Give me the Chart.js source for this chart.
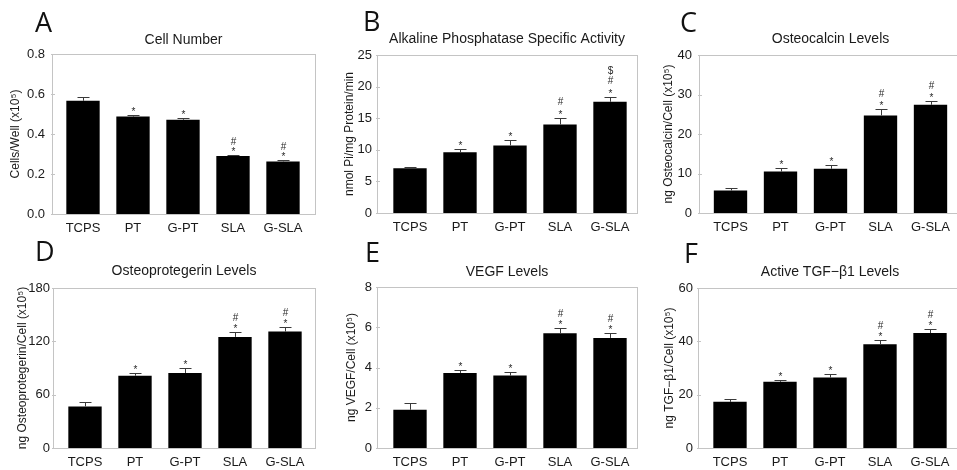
<!DOCTYPE html>
<html><head><meta charset="utf-8">
<script src="https://cdn.jsdelivr.net/npm/chart.js@4.4.1/dist/chart.umd.min.js"></script>
<style>
html,body{margin:0;padding:0;background:#fff;overflow:hidden;width:957px;height:470px;position:relative}
canvas{position:absolute}
</style></head><body>
<script>
// ---------- data ----------
const categories = ['TCPS', 'PT', 'G-PT', 'SLA', 'G-SLA'];

const cellNumber      = [0.566, 0.487, 0.471, 0.290, 0.263];
const cellNumberErr   = [0.017, 0.008, 0.008, 0.006, 0.007];
const cellNumberSig   = ['', '*', '*', '#*', '#*'];

const alkPhos         = [7.1, 9.6, 10.7, 14.0, 17.6];
const alkPhosErr      = [0.25, 0.5, 0.9, 1.0, 0.8];
const alkPhosSig      = ['', '*', '*', '#*', '$#*'];

const osteocalcin     = [5.7, 10.5, 11.2, 24.7, 27.4];
const osteocalcinErr  = [0.6, 0.9, 1.0, 1.6, 1.0];
const osteocalcinSig  = ['', '*', '*', '#*', '#*'];

const opg             = [46.8, 81.3, 84.4, 125.0, 131.0];
const opgErr          = [4.5, 3.0, 6.0, 6.0, 5.6];
const opgSig          = ['', '*', '*', '#*', '#*'];

const vegf            = [1.9, 3.73, 3.6, 5.7, 5.47];
const vegfErr         = [0.33, 0.13, 0.18, 0.25, 0.22];
const vegfSig         = ['', '*', '*', '#*', '#*'];

const tgf             = [17.3, 24.8, 26.4, 38.9, 43.1];
const tgfErr          = [0.9, 0.6, 1.5, 1.7, 1.7];
const tgfSig          = ['', '*', '*', '#*', '#*'];

const panelLetters = ['A', 'B', 'C', 'D', 'E', 'F'];
const panelTitles = ['Cell Number', 'Alkaline Phosphatase Specific Activity', 'Osteocalcin Levels',
                     'Osteoprotegerin Levels', 'VEGF Levels', 'Active TGF\u2212\u03b21 Levels'];
const yTitles = ['Cells/Well (x10\u2075)', 'nmol Pi/mg Protein/min', 'ng Osteocalcin/Cell (x10\u2075)',
                 'ng Osteoprotegerin/Cell (x10\u2075)', 'ng VEGF/Cell (x10\u2075)', 'ng TGF\u2212\u03b21/Cell (x10\u2075)'];
const yMax  = [0.8, 25, 40, 180, 8, 60];
const yStep = [0.2, 5, 10, 60, 2, 20];
const yDecimals = [1, 0, 0, 0, 0, 0];

const values = [cellNumber, alkPhos, osteocalcin, opg, vegf, tgf];
const errors = [cellNumberErr, alkPhosErr, osteocalcinErr, opgErr, vegfErr, tgfErr];
const sigs   = [cellNumberSig, alkPhosSig, osteocalcinSig, opgSig, vegfSig, tgfSig];

// ---------- layout (page coordinates) ----------
const layoutCfg = [
  {cv:[0,0,320,235],    fr:{l:52,r:315,t:54,b:214},  xr:[-0.62,4.64], titleY:40,  yTitleX:16,  tickPad:7, markGap:7,  letter:[35,32]},
  {cv:[320,0,320,235],  fr:{l:377,r:637,t:55,b:213}, xr:[-0.66,4.54], titleY:39,  yTitleX:350, tickPad:5, markGap:10, letter:[363,31]},
  {cv:[640,0,330,235],  fr:{l:699,r:962,t:55,b:213}, xr:[-0.63,4.63], titleY:39,  yTitleX:669, tickPad:7, markGap:9,  letter:[680,32]},
  {cv:[0,235,320,235],  fr:{l:53,r:315,t:288,b:448}, xr:[-0.64,4.60], titleY:271, yTitleX:23,  tickPad:3, markGap:8,  letter:[35,261]},
  {cv:[320,235,320,235],fr:{l:377,r:637,t:287,b:448},xr:[-0.66,4.54], titleY:272, yTitleX:352, tickPad:5, markGap:8,  letter:[365,262]},
  {cv:[640,235,330,235],fr:{l:698,r:962,t:288,b:448},xr:[-0.64,4.64], titleY:272, yTitleX:670, tickPad:5, markGap:8,  letter:[684,263]}
];

const FONT = '"Liberation Sans", Arial, sans-serif';
const TXT = '#1a1a1a';
const FRAME = '#c4c4c4';

const framePlugin = {
  id: 'frame',
  beforeDatasetsDraw(chart) {
    const {ctx, chartArea: a} = chart;
    const ys = chart.scales.y;
    ctx.save();
    ctx.strokeStyle = FRAME; ctx.lineWidth = 1;
    ctx.strokeRect(Math.round(a.left) + 0.5, Math.round(a.top) + 0.5,
                   Math.round(a.right) - Math.round(a.left), Math.round(a.bottom) - Math.round(a.top));
    ctx.beginPath();
    ys.ticks.forEach(t => {
      const y = Math.round(ys.getPixelForValue(t.value)) + 0.5;
      ctx.moveTo(Math.round(a.left) - 1, y); ctx.lineTo(Math.round(a.left) + 3, y);
    });
    ctx.stroke();
    ctx.restore();
  }
};

const errPlugin = {
  id: 'errbars',
  afterDatasetsDraw(chart, args, opts) {
    const {ctx} = chart;
    const meta = chart.getDatasetMeta(0);
    const ys = chart.scales.y;
    const ds = chart.data.datasets[0].data;
    ctx.save();
    meta.data.forEach((bar, i) => {
      const x = Math.round(bar.x) + 0.5;
      const yE = Math.round(ys.getPixelForValue(ds[i].y + opts.err[i])) + 0.5;
      ctx.strokeStyle = '#3a3a3a'; ctx.lineWidth = 1;
      ctx.beginPath();
      ctx.moveTo(x, bar.y); ctx.lineTo(x, yE);
      ctx.moveTo(x - 6, yE); ctx.lineTo(x + 6, yE);
      ctx.stroke();
      const marks = opts.sig[i].split('');
      ctx.fillStyle = '#2a2a2a';
      ctx.font = '10px ' + FONT;
      ctx.textAlign = 'center'; ctx.textBaseline = 'middle';
      let y = yE - 6;
      for (let k = marks.length - 1; k >= 0; k--) {
        const m = marks[k];
        ctx.fillText(m, x, y + (m === '*' ? 2.5 : 0));
        y -= opts.gap;
      }
    });
    ctx.restore();
  }
};

const letterPlugin = {
  id: 'letter',
  afterDraw(chart, args, opts) {
    const {ctx} = chart;
    ctx.save();
    ctx.fillStyle = '#111';
    ctx.font = '27px "Open Sans", "DejaVu Sans", sans-serif';
    ctx.textAlign = 'left'; ctx.textBaseline = 'alphabetic';
    ctx.fillText(opts.text, opts.x, opts.y);
    ctx.restore();
  }
};

panelLetters.forEach((letter, p) => {
  const L = layoutCfg[p];
  const [cx, cy, cw, ch] = L.cv;
  const cv = document.createElement('canvas');
  cv.width = cw; cv.height = ch;
  cv.style.left = cx + 'px'; cv.style.top = cy + 'px';
  cv.style.width = cw + 'px'; cv.style.height = ch + 'px';
  document.body.appendChild(cv);

  const titleLH = 14 * 1.2;
  const tPadTop = L.titleY - cy - titleLH / 2;
  const tPadBot = (L.fr.t - cy) - tPadTop - titleLH;
  const yTitleLH = 12 * 1.2;

  new Chart(cv, {
    type: 'bar',
    data: {
      datasets: [{
        data: categories.map((c, i) => ({x: i, y: values[p][i]})),
        backgroundColor: '#000',
        borderWidth: 0,
        barPercentage: 0.667,
        categoryPercentage: 1
      }]
    },
    options: {
      responsive: false,
      animation: false,
      devicePixelRatio: 1,
      layout: {padding: {left: 0, top: 0, bottom: 0, right: cx + cw - L.fr.r}},
      plugins: {
        legend: {display: false},
        tooltip: {enabled: false},
        title: {
          display: true, text: panelTitles[p], fullSize: false, color: TXT,
          font: {family: FONT, size: 14, weight: 'normal', lineHeight: 1.2},
          padding: {top: tPadTop, bottom: tPadBot}
        },
        errbars: {err: errors[p], sig: sigs[p], gap: L.markGap},
        letter: {text: letter, x: L.letter[0] - cx, y: L.letter[1] - cy}
      },
      scales: {
        x: {
          type: 'linear', min: L.xr[0], max: L.xr[1], offset: false,
          grid: {display: false, drawTicks: false, offset: false},
          border: {display: false},
          ticks: {
            stepSize: 1, includeBounds: false, autoSkip: false, maxRotation: 0, padding: 7,
            color: TXT, font: {family: FONT, size: 13},
            callback: (v) => (Number.isInteger(v) && categories[v] !== undefined) ? categories[v] : ''
          },
          afterFit: (s) => { s.height = cy + ch - L.fr.b; }
        },
        y: {
          min: 0, max: yMax[p],
          grid: {display: false, drawTicks: false},
          border: {display: false},
          ticks: {
            stepSize: yStep[p], padding: L.tickPad, color: TXT, font: {family: FONT, size: 13},
            callback: (v) => Number(v).toFixed(yDecimals[p])
          },
          title: {
            display: true, text: yTitles[p], color: TXT,
            font: {family: FONT, size: 12, lineHeight: 1.2},
            padding: {top: L.yTitleX - cx - yTitleLH / 2, bottom: 0}
          },
          afterFit: (s) => { s.width = L.fr.l - cx; }
        }
      }
    },
    plugins: [framePlugin, errPlugin, letterPlugin]
  });
});
</script>
</body></html>
